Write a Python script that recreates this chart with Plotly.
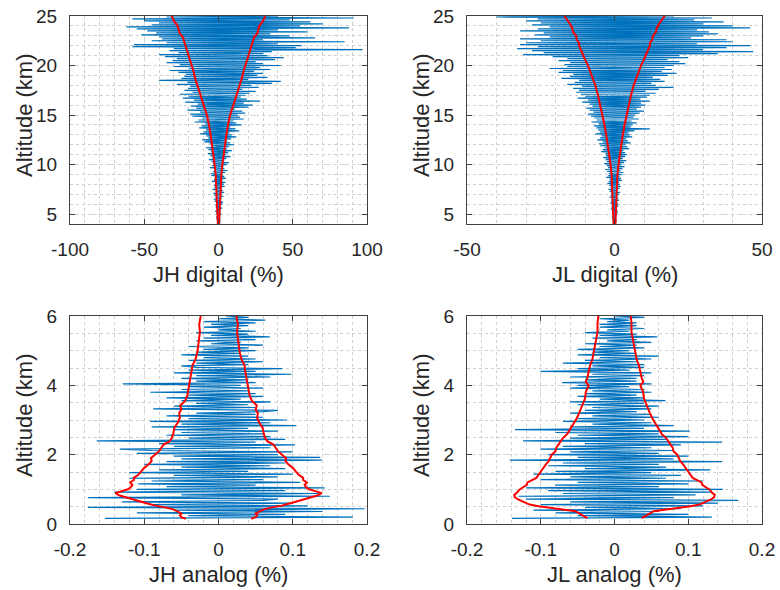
import numpy as np
import plotly.graph_objects as go

# ---------------- data ----------------
alt_digital = np.round(np.arange(4.0, 25.001, 0.1), 2)   # km, 211 samples
alt_analog = np.round(np.arange(0.16, 6.0001, 0.04), 2)  # km, 147 samples

jh_digital = [
    0.5, -1.0, 1.2, -0.8, 1.5, -1.3, 0.9, -1.6, 1.1, -0.7,
    1.8, -1.5, 1.0, -2.2, 1.6, -1.1, 2.4, -1.8, 0.9, -2.0,
    2.5, -1.4, 3.0, -2.6, 1.2, -3.1, 2.2, -1.9, 3.4, -2.8,
    2.0, -3.5, 3.8, -1.6, 2.9, -4.0, 1.8, -2.7, 4.2, -3.1,
    3.5, -2.2, 4.6, -4.4, 2.6, -3.0, 5.0, -2.5, 3.9, -4.8,
    2.8, -5.2, 4.5, -3.6, 6.0, -2.9, 4.0, -5.8, 3.3, -4.2,
    5.5, -3.8, 7.0, -4.6, 3.9, -6.5, 5.2, -4.0, 8.0, -5.5,
    4.8, -7.2, 6.5, -5.0, 9.0, -6.8, 5.5, -8.5, 7.2, -4.8,
    10.5, -6.0, 7.8, -9.5, 5.9, -11.0, 8.5, -7.0, 12.0, -8.2,
    9.0, -12.5, 7.5, -10.0, 14.0, -8.5, 11.5, -13.0, 8.0, -11.5,
    15.5, -9.0, 12.0, -16.0, 10.0, -13.5, 17.0, -11.0, 14.5, -17.5,
    13.0, -19.0, 18.0, -12.5, 16.0, -21.0, 11.0, -15.0, 20.0, -18.5,
    23.0, -14.0, 17.0, -22.5, 28.0, -16.5, 19.0, -24.0, 15.0, -20.0,
    18.0, -26.0, 21.0, -17.5, 25.0, -23.0, 16.0, -20.5, 27.0, -19.0,
    22.0, -28.0, 36.0, -21.0, 42.0, -40.0, 20.0, -25.0, 33.0, -23.0,
    26.0, -22.0, 30.0, -27.0, 24.0, -33.0, 35.0, -20.0, 28.0, -30.0,
    42.0, -26.0, 30.0, -35.0, 25.0, -31.0, 38.0, -28.0, 44.0, -36.0,
    33.0, -40.0, 30.0, -27.0, 36.0, -33.0, 97.0, -30.0, 52.0, -58.0,
    56.0, -57.0, 40.0, -35.0, 85.0, -45.0, 30.0, -38.0, 65.0, -40.0,
    48.0, -52.0, 35.0, -42.0, 60.0, -48.0, 40.0, -55.0, 88.0, -62.0,
    55.0, -45.0, 70.0, -40.0, 62.0, -50.0, 48.0, -58.0, 91.0, -35.0,
    40.0,
]

jl_digital = [
    0.3, -0.6, 0.7, -0.4, 0.8, -0.7, 0.5, -0.9, 0.6, -0.5,
    0.9, -0.8, 1.1, -0.6, 1.0, -1.2, 0.8, -1.0, 1.3, -0.7,
    1.2, -1.4, 0.9, -1.1, 1.6, -1.0, 1.3, -1.7, 1.0, -1.3,
    1.5, -1.2, 1.9, -1.6, 1.1, -2.0, 1.7, -1.3, 2.1, -1.8,
    1.8, -2.4, 1.5, -1.9, 2.5, -1.6, 2.2, -2.8, 1.7, -2.1,
    2.6, -1.9, 3.0, -2.5, 2.0, -3.2, 2.7, -2.2, 3.4, -2.6,
    2.4, -3.5, 3.2, -2.6, 4.0, -3.0, 2.8, -3.8, 3.6, -2.9,
    4.2, -3.1, 3.6, -4.5, 3.0, -4.0, 5.0, -3.4, 4.4, -4.8,
    3.8, -5.3, 5.5, -4.0, 4.6, -5.8, 4.0, -4.9, 6.0, -4.4,
    5.2, -6.5, 4.8, -5.0, 6.8, -5.6, 12.0, -6.2, 5.5, -7.0,
    6.2, -5.4, 7.5, -7.8, 5.8, -6.0, 8.2, -6.8, 6.5, -8.0,
    7.0, -9.0, 8.5, -7.2, 10.0, -8.4, 7.6, -9.5, 9.0, -7.5,
    10.5, -8.5, 9.0, -11.0, 12.0, -9.0, 8.8, -12.5, 11.0, -10.0,
    12.0, -11.5, 14.0, -13.0, 10.5, -12.0, 15.0, -14.0, 20.0, -11.0,
    14.0, -16.0, 12.5, -13.5, 17.0, -12.0, 15.5, -18.0, 13.0, -15.0,
    18.0, -14.0, 21.0, -19.0, 16.0, -17.5, 19.5, -22.0, 17.0, -16.0,
    20.0, -17.0, 24.0, -15.0, 22.0, -19.0, 18.0, -16.0, 25.0, -21.0,
    22.0, -31.0, 35.0, -24.0, 47.0, -28.0, 30.0, -33.0, 38.0, -26.0,
    46.0, -32.0, 28.0, -30.0, 40.0, -25.0, 38.0, -32.0, 26.0, -22.0,
    30.0, -27.0, 35.0, -24.0, 32.0, -32.0, 28.0, -26.0, 46.0, -22.0,
    40.0, -28.0, 30.0, -25.0, 37.0, -30.0, 27.0, -26.0, 33.0, -40.0,
    20.0,
]

jh_analog = [
    -0.153, 0.181, -0.04, 0.09, -0.11, 0.14, -0.06, 0.197, -0.176, 0.12,
    -0.09, 0.10, -0.13, 0.06, 0.08, -0.176, 0.15, -0.05, 0.135, -0.14,
    0.09, -0.11, 0.143, -0.07, 0.05, -0.108, 0.11, -0.09, 0.06, -0.12,
    0.08, -0.06, 0.10, -0.12, 0.04, -0.08, 0.09, -0.05, 0.07, -0.10,
    0.09, -0.07, 0.139, -0.05, 0.137, -0.06, 0.08, -0.11, 0.10, -0.09,
    -0.133, 0.07, -0.06, 0.103, -0.08, 0.05, -0.164, 0.09, -0.04, 0.07,
    -0.07, 0.06, -0.05, 0.08, -0.06, 0.04, -0.09, 0.105, -0.05, 0.07,
    -0.092, 0.092, -0.04, 0.06, -0.07, 0.05, -0.03, 0.06, 0.08, -0.088,
    0.05, -0.06, 0.04, -0.03, 0.07, -0.05, 0.03, -0.07, 0.06, -0.04,
    0.05, -0.092, 0.04, -0.05, 0.06, -0.04, 0.03, -0.129, 0.05, -0.03,
    0.04, -0.05, 0.07, -0.03, 0.098, -0.06, 0.05, -0.04, 0.086, -0.03,
    -0.05, 0.04, -0.03, 0.06, -0.04, 0.05, -0.02, 0.04, -0.05, 0.03,
    -0.03, 0.05, -0.02, 0.04, -0.04, 0.06, -0.01, 0.03, -0.03, 0.05,
    -0.02, 0.069, -0.01, 0.04, -0.03, 0.05, 0.00, 0.03, -0.02, 0.04,
    -0.01, 0.05, -0.02, 0.063, 0.00, 0.04, 0.01,
]

jl_analog = [
    -0.139, 0.132, -0.05, 0.10, -0.08, 0.06, -0.11, 0.09, -0.04, 0.12,
    -0.10, 0.14, -0.06, 0.168, -0.12, 0.08, -0.13, 0.11, -0.07, 0.13,
    -0.09, 0.147, -0.12, 0.06, -0.08, 0.10, -0.05, 0.12, -0.10, 0.07,
    -0.06, 0.09, -0.11, 0.05, -0.08, 0.13, -0.04, 0.07, -0.09, 0.06,
    -0.07, 0.146, -0.142, 0.08, -0.05, 0.10, -0.09, 0.06, -0.06, 0.08,
    -0.10, 0.05, -0.07, 0.09, -0.04, 0.146, -0.124, 0.07, -0.06, 0.10,
    -0.05, 0.06, -0.08, 0.102, -0.135, 0.04, -0.06, 0.08, -0.03, 0.05,
    -0.07, 0.04, -0.05, 0.06, -0.03, 0.05, -0.06, 0.03, -0.04, 0.05,
    -0.03, 0.06, -0.05, 0.04, -0.06, 0.069, -0.02, 0.04, -0.05, 0.03,
    -0.04, 0.05, -0.03, 0.04, -0.06, 0.02, -0.05, 0.05, -0.071, 0.03,
    -0.04, 0.03, -0.06, 0.04, -0.03, 0.05, -0.10, 0.02, -0.05, 0.04,
    -0.03, 0.04, -0.07, 0.03, -0.04, 0.05, -0.02, 0.06, -0.05, 0.03,
    -0.03, 0.02, -0.05, 0.04, -0.02, 0.03, -0.04, 0.05, -0.01, 0.03,
    -0.03, 0.058, -0.02, 0.03, -0.04, 0.02, -0.01, 0.04, -0.02, 0.03,
    -0.02, 0.03, -0.01, 0.02, -0.02, 0.04, 0.00,
]

# standard deviation envelopes (red lines, plotted as +/-)
jh_digital_std_alt = [4.0, 5.0, 6.0, 7.0, 8.0, 9.0, 10.0, 11.0, 12.0, 13.0, 14.0, 15.0, 16.0,
                      17.0, 18.0, 18.7, 19.5, 20.0, 20.5, 21.0, 21.5, 22.0, 22.5, 22.9, 23.2,
                      23.5, 24.0, 24.5, 25.0]
jh_digital_std = [0.4, 0.6, 0.8, 1.0, 1.4, 1.9, 2.6, 3.4, 4.3, 5.3, 6.4, 7.8, 10.0,
                  12.3, 14.3, 15.7, 17.0, 18.0, 19.0, 20.2, 21.5, 22.0, 23.5, 24.1, 26.0,
                  26.5, 27.5, 30.0, 31.5]

jl_digital_std_alt = [4.0, 5.0, 6.0, 7.0, 8.0, 9.0, 10.0, 11.0, 12.0, 13.0, 14.0, 15.0, 16.0,
                      17.0, 18.0, 18.7, 19.5, 20.0, 20.5, 21.0, 21.5, 22.0, 22.3, 22.6, 23.0,
                      23.4, 23.8, 24.3, 25.0]
jl_digital_std = [0.3, 0.4, 0.5, 0.6, 0.8, 1.0, 1.35, 1.75, 2.25, 2.8, 3.4, 4.1, 4.8,
                  5.6, 6.5, 7.3, 8.2, 9.0, 9.8, 10.6, 11.3, 12.0, 12.0, 12.8, 13.0,
                  14.1, 14.3, 15.3, 17.0]

jh_analog_std_alt = [0.15, 0.20, 0.25, 0.30, 0.37, 0.43, 0.48, 0.53, 0.60, 0.68, 0.75, 0.82,
                     0.89, 0.95, 1.00, 1.06, 1.13, 1.20, 1.27, 1.33, 1.42, 1.52, 1.62, 1.72,
                     1.82, 1.90, 2.00, 2.10, 2.20, 2.29, 2.38, 2.48, 2.60, 2.77, 2.92, 3.06,
                     3.20, 3.30, 3.42, 3.55, 3.70, 3.81, 4.00, 4.20, 4.40, 4.58, 4.75, 4.96,
                     5.20, 5.54, 5.75, 6.00]
jh_analog_std = [0.044, 0.050, 0.052, 0.050, 0.056, 0.062, 0.072, 0.085, 0.097, 0.110, 0.122,
                 0.133, 0.139, 0.130, 0.122, 0.118, 0.116, 0.119, 0.114, 0.114, 0.108, 0.104,
                 0.100, 0.094, 0.090, 0.091, 0.085, 0.080, 0.077, 0.074, 0.066, 0.063, 0.061,
                 0.0595, 0.055, 0.052, 0.053, 0.050, 0.0516, 0.045, 0.042, 0.041, 0.040,
                 0.038, 0.036, 0.035, 0.031, 0.0285, 0.027, 0.025, 0.026, 0.024]

jl_analog_std_alt = [0.17, 0.25, 0.32, 0.37, 0.42, 0.46, 0.51, 0.56, 0.63, 0.70, 0.77, 0.84,
                     0.91, 0.99, 1.06, 1.13, 1.20, 1.27, 1.33, 1.45, 1.55, 1.62, 1.72, 1.82,
                     1.90, 2.00, 2.10, 2.20, 2.29, 2.38, 2.48, 2.60, 2.70, 2.77, 2.90, 3.06,
                     3.20, 3.35, 3.50, 3.62, 3.80, 3.90, 4.00, 4.10, 4.20, 4.40, 4.58, 4.75,
                     4.96, 5.20, 5.54, 5.80, 6.00]
jl_analog_std = [0.037, 0.043, 0.048, 0.053, 0.070, 0.088, 0.103, 0.115, 0.123, 0.130, 0.135,
                 0.136, 0.132, 0.129, 0.124, 0.119, 0.118, 0.111, 0.106, 0.102, 0.099, 0.097,
                 0.093, 0.089, 0.087, 0.085, 0.080, 0.079, 0.076, 0.073, 0.070, 0.064, 0.061,
                 0.059, 0.056, 0.051, 0.048, 0.045, 0.043, 0.040, 0.039, 0.037, 0.035, 0.039,
                 0.037, 0.035, 0.033, 0.030, 0.028, 0.026, 0.023, 0.023, 0.022]

# tick labels
xt_jh_digital = [-100, -50, 0, 50, 100]
xt_jh_digital_text = ["-100", "-50", "0", "50", "100"]
xt_jl_digital = [-50, 0, 50]
xt_jl_digital_text = ["-50", "0", "50"]
xt_analog = [-0.2, -0.1, 0, 0.1, 0.2]
xt_analog_text = ["-0.2", "-0.1", "0", "0.1", "0.2"]
yt_digital = [5, 10, 15, 20, 25]
yt_analog = [0, 2, 4, 6]

x_titles = ["JH digital (%)", "JL digital (%)", "JH analog (%)", "JL analog (%)"]
y_title = "Altitude (km)"

# ---------------- figure ----------------
BLUE = "#0072BD"
RED = "#FF0000"
TXT = "#262626"
FONT = "Liberation Sans, Arial, Helvetica, sans-serif"

W, H = 780, 590


def px(X):
    return X / W


def py(Y):
    return 1 - Y / H


boxes = {  # pixel boxes of the plot areas: left, right, top, bottom
    1: (70, 367, 16, 224),
    2: (467, 762, 16, 224),
    3: (70, 367, 316, 524),
    4: (467, 762, 316, 524),
}

fig = go.Figure()

panels = [
    (1, jh_digital, alt_digital, jh_digital_std, jh_digital_std_alt),
    (2, jl_digital, alt_digital, jl_digital_std, jl_digital_std_alt),
    (3, jh_analog, alt_analog, jh_analog_std, jh_analog_std_alt),
    (4, jl_analog, alt_analog, jl_analog_std, jl_analog_std_alt),
]

for k, vals, alts, sd, sd_alt in panels:
    xa = "x" if k == 1 else f"x{k}"
    ya = "y" if k == 1 else f"y{k}"
    fig.add_trace(go.Scatter(x=vals, y=alts, mode="lines", xaxis=xa, yaxis=ya,
                             line=dict(color=BLUE, width=1.2), showlegend=False,
                             hoverinfo="skip"))
    fig.add_trace(go.Scatter(x=[-v for v in sd], y=sd_alt, mode="lines", xaxis=xa, yaxis=ya,
                             line=dict(color=RED, width=2), showlegend=False,
                             hoverinfo="skip"))
    fig.add_trace(go.Scatter(x=sd, y=sd_alt, mode="lines", xaxis=xa, yaxis=ya,
                             line=dict(color=RED, width=2), showlegend=False,
                             hoverinfo="skip"))


def axis_common():
    return dict(
        showline=True, linecolor="#404040", linewidth=1, mirror="ticks",
        ticks="inside", ticklen=5, tickcolor="#404040", tickwidth=1,
        tickfont=dict(family=FONT, size=19, color=TXT),
        showgrid=True, gridcolor="#d6d6d6", griddash="dash", gridwidth=1,
        zeroline=False, ticklabelstandoff=8, automargin=False,
        ticklabeloverflow="allow", fixedrange=True,
    )


axis_specs = {
    1: dict(xr=[-100, 100], xt=xt_jh_digital, xtt=xt_jh_digital_text, xmin=10,
            yr=[4, 25], yt=yt_digital, ymin=1),
    2: dict(xr=[-50, 50], xt=xt_jl_digital, xtt=xt_jl_digital_text, xmin=10,
            yr=[4, 25], yt=yt_digital, ymin=1),
    3: dict(xr=[-0.2, 0.2], xt=xt_analog, xtt=xt_analog_text, xmin=0.02,
            yr=[0, 6], yt=yt_analog, ymin=0.5),
    4: dict(xr=[-0.2, 0.2], xt=xt_analog, xtt=xt_analog_text, xmin=0.02,
            yr=[0, 6], yt=yt_analog, ymin=0.5),
}

layout = dict(template="none", width=W, height=H,
              margin=dict(l=0, r=0, t=0, b=0, autoexpand=False),
              paper_bgcolor="white", plot_bgcolor="white", showlegend=False,
              hovermode=False)

annotations = []
for k, spec in axis_specs.items():
    l, r, t, b = boxes[k]
    xname = "xaxis" if k == 1 else f"xaxis{k}"
    yname = "yaxis" if k == 1 else f"yaxis{k}"
    xa = axis_common()
    xa.update(domain=[px(l), px(r)], range=spec["xr"], tickmode="array",
              tickvals=spec["xt"], ticktext=spec["xtt"],
              anchor="y" if k == 1 else f"y{k}",
              minor=dict(tick0=0, dtick=spec["xmin"], showgrid=True,
                         gridcolor="#cfcfcf", griddash="dot", gridwidth=1))
    ya = axis_common()
    ya.update(domain=[py(b), py(t)], range=spec["yr"], tickmode="array",
              tickvals=spec["yt"], ticktext=[str(v) for v in spec["yt"]],
              anchor="x" if k == 1 else f"x{k}",
              minor=dict(tick0=0, dtick=spec["ymin"], showgrid=True,
                         gridcolor="#cfcfcf", griddash="dot", gridwidth=1))
    layout[xname] = xa
    layout[yname] = ya

    annotations.append(dict(text=x_titles[k - 1], xref="paper", yref="paper",
                            x=px((l + r) / 2), y=py(b + 50),
                            xanchor="center", yanchor="middle", showarrow=False,
                            font=dict(family=FONT, size=22, color=TXT)))
    annotations.append(dict(text=y_title, xref="paper", yref="paper",
                            x=px(l - 46), y=py((t + b) / 2 - 4),
                            xanchor="center", yanchor="middle", showarrow=False,
                            textangle=-90,
                            font=dict(family=FONT, size=22, color=TXT)))

layout["annotations"] = annotations
fig.update_layout(**layout)

# remove the default page margin so the 780x590 figure fills the window exactly
fig.write_html("out.html",
               config={"displayModeBar": False, "staticPlot": True},
               post_script="document.body.style.margin='0';"
                           "document.body.style.overflow='hidden';")
